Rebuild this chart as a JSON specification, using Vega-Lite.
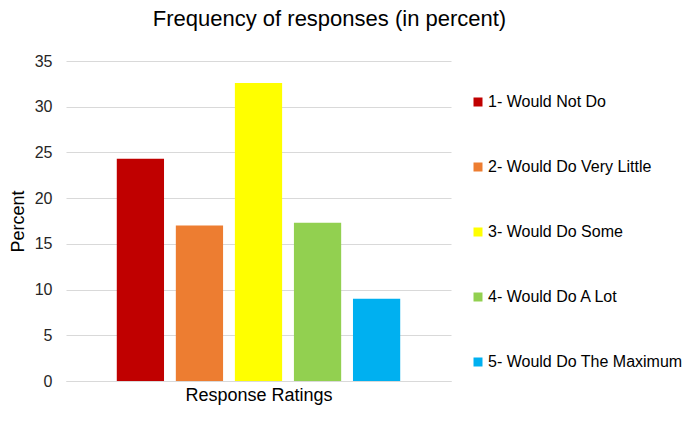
{
  "$schema": "https://vega.github.io/schema/vega-lite/v6.json",
  "width": 385,
  "height": 320,
  "padding": {"left": 9, "top": 8, "right": 5, "bottom": 5},
  "background": "white",
  "title": {
    "text": "Frequency of responses (in percent)",
    "font": "Liberation Sans",
    "fontSize": 22,
    "fontWeight": "normal",
    "color": "#000000",
    "anchor": "middle",
    "frame": "group",
    "dx": 71,
    "offset": 22
  },
  "data": {
    "values": [
      {"rating": "1- Would Not Do", "percent": 24.3},
      {"rating": "2- Would Do Very Little", "percent": 17.0},
      {"rating": "3- Would Do Some", "percent": 32.6},
      {"rating": "4- Would Do A Lot", "percent": 17.3},
      {"rating": "5- Would Do The Maximum", "percent": 9.0}
    ]
  },
  "mark": {"type": "bar"},
  "encoding": {
    "x": {
      "field": "rating",
      "type": "nominal",
      "sort": null,
      "scale": {"paddingInner": 0.2, "paddingOuter": 0.86},
      "axis": {
        "title": "Response Ratings",
        "labels": false,
        "ticks": false,
        "domain": true,
        "domainColor": "#d9d9d9",
        "domainWidth": 1,
        "titleFont": "Liberation Sans",
        "titleFontSize": 18,
        "titleFontWeight": "normal",
        "titleColor": "#000000",
        "titlePadding": 5
      }
    },
    "y": {
      "field": "percent",
      "type": "quantitative",
      "scale": {"domain": [0, 35], "nice": false},
      "axis": {
        "title": "Percent",
        "values": [0, 5, 10, 15, 20, 25, 30, 35],
        "domain": false,
        "ticks": false,
        "grid": true,
        "gridColor": "#d9d9d9",
        "gridWidth": 1,
        "labelFont": "Liberation Sans",
        "labelFontSize": 16,
        "labelColor": "#262626",
        "labelPadding": 14,
        "titleFont": "Liberation Sans",
        "titleFontSize": 18,
        "titleFontWeight": "normal",
        "titleColor": "#000000",
        "titlePadding": 7
      }
    },
    "color": {
      "field": "rating",
      "type": "nominal",
      "sort": null,
      "scale": {
        "domain": ["1- Would Not Do", "2- Would Do Very Little", "3- Would Do Some", "4- Would Do A Lot", "5- Would Do The Maximum"],
        "range": ["#C00000", "#ED7D31", "#FFFF00", "#92D050", "#00B0F0"]
      },
      "legend": {
        "title": null,
        "orient": "none",
        "legendX": 404,
        "legendY": 33,
        "symbolType": "square",
        "symbolSize": 81,
        "symbolStrokeWidth": 0,
        "symbolOpacity": 1,
        "labelFont": "Liberation Sans",
        "labelFontSize": 16,
        "labelColor": "#000000",
        "labelOffset": 2,
        "labelLimit": 300,
        "rowPadding": 49
      }
    }
  },
  "config": {
    "view": {"stroke": null},
    "axis": {"gridDash": []}
  }
}
